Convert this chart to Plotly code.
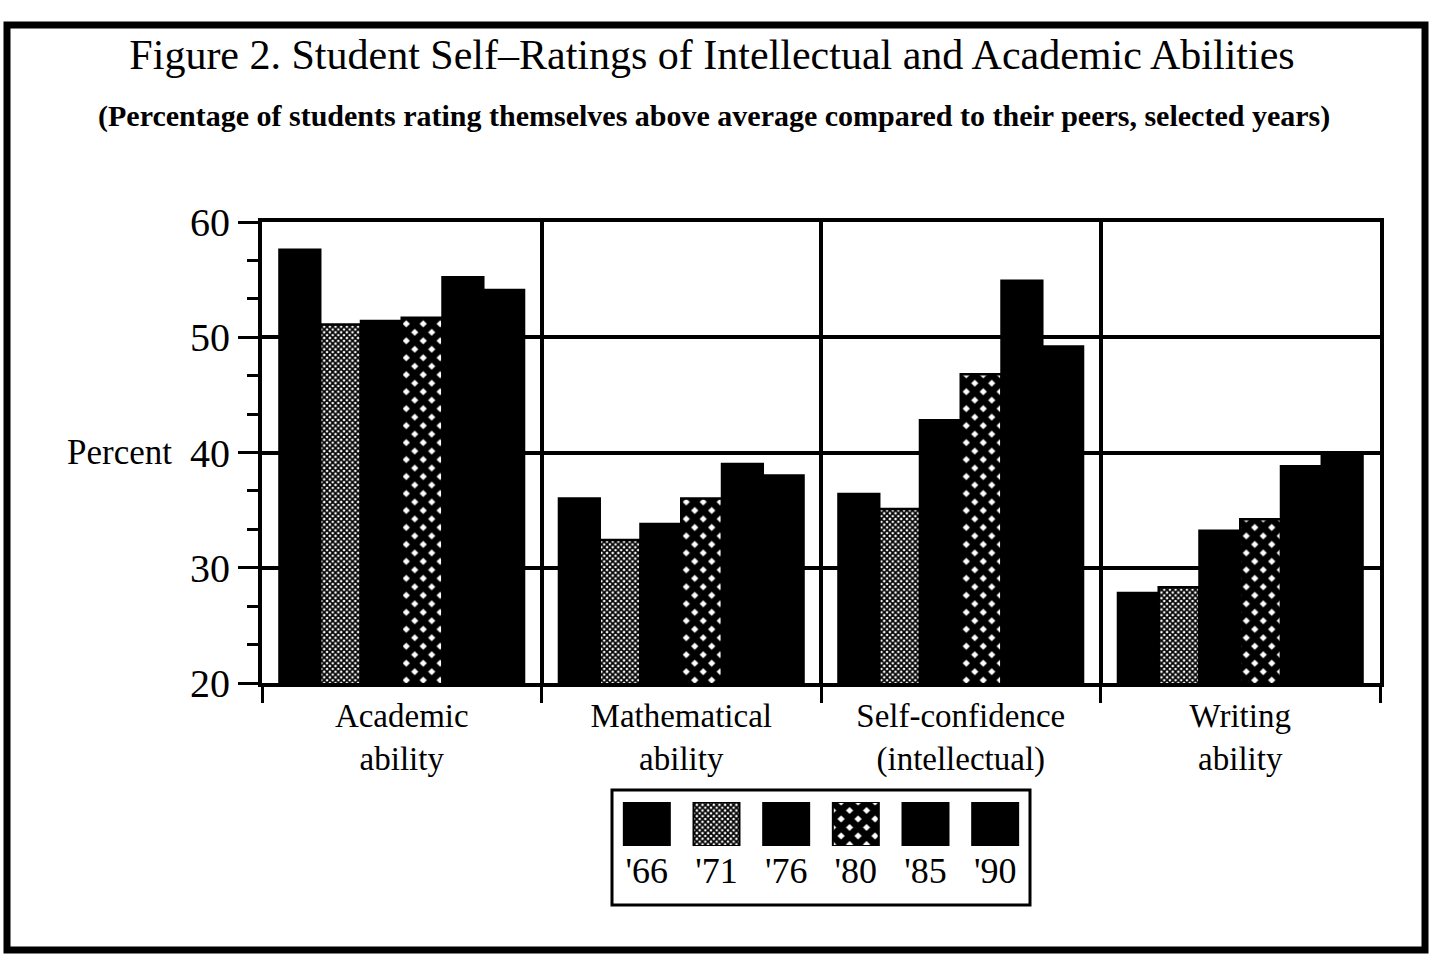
import plotly.graph_objects as go

W, H = 1430, 961

# ---- data ----
categories = ["Academic<br>ability", "Mathematical<br>ability",
              "Self-confidence<br>(intellectual)", "Writing<br>ability"]
years = ["'66", "'71", "'76", "'80", "'85", "'90"]

pct_66 = [57.6, 36.0, 36.4, 27.8]
pct_71 = [51.1, 32.4, 35.1, 28.3]
pct_76 = [51.4, 33.8, 42.8, 33.2]
pct_80 = [51.7, 36.0, 46.8, 34.2]
pct_85 = [55.2, 39.0, 54.9, 38.8]
pct_90 = [54.1, 38.0, 49.2, 39.9]

series = [pct_66, pct_71, pct_76, pct_80, pct_85, pct_90]

# fill styles: solid black except '71 (fine screen) and '80 (diamond dots)
patterns = {
    "'66": dict(shape=""),
    "'71": dict(shape="x", fgcolor="black", bgcolor="white", size=4, solidity=0.68, fillmode="replace"),
    "'76": dict(shape=""),
    "'80": dict(shape="x", fgcolor="black", bgcolor="white", size=12, solidity=0.82, fillmode="replace"),
    "'85": dict(shape=""),
    "'90": dict(shape=""),
}

FONT = "Liberation Serif"


def px(x):
    return x / W


def py(y):
    return 1 - y / H


fig = go.Figure()

for yr, vals in zip(years, series):
    fig.add_trace(go.Bar(
        x=categories, y=vals, name=yr,
        marker=dict(color="black", line=dict(color="black", width=2.5),
                    pattern=patterns[yr]),
        showlegend=False,
    ))

# legend drawn as a tiny bar chart: swatches above, year labels below
fig.add_trace(go.Bar(
    x=years, y=[1] * len(years), xaxis="x2", yaxis="y2", width=0.66,
    marker=dict(
        color="black", line=dict(color="black", width=2),
        pattern=dict(
            shape=[patterns[y]["shape"] for y in years],
            fgcolor="black", bgcolor="white",
            size=[patterns[y].get("size", 8) for y in years],
            solidity=[patterns[y].get("solidity", 0.5) for y in years],
            fillmode="replace",
        ),
    ),
    showlegend=False, hoverinfo="skip",
))

fig.update_layout(
    width=W, height=H,
    margin=dict(l=0, r=0, t=0, b=0, autoexpand=False),
    paper_bgcolor="white", plot_bgcolor="white",
    font=dict(family=FONT, color="black"),
    barmode="group", bargap=0.125, bargroupgap=0,
    title=dict(text="Figure 2. Student Self–Ratings of Intellectual and Academic Abilities",
               x=px(712), xanchor="center", y=py(54), yanchor="middle",
               font=dict(family=FONT, size=42, color="black")),
    xaxis=dict(domain=[px(262), px(1380)], tickson="boundaries", automargin=False,
               showline=True, linecolor="black", linewidth=4, mirror=True,
               showgrid=True, gridcolor="black", gridwidth=4,
               ticks="outside", ticklen=16, tickwidth=3, tickcolor="black",
               tickfont=dict(size=33, family=FONT), fixedrange=True),
    yaxis=dict(domain=[py(683), py(222)], range=[20, 60], dtick=10, automargin=False,
               showline=True, linecolor="black", linewidth=4, mirror=True,
               showgrid=True, gridcolor="black", gridwidth=4, zeroline=False,
               ticks="outside", ticklen=20, tickwidth=3, tickcolor="black",
               minor=dict(dtick=10 / 3, ticks="outside", ticklen=11, tickwidth=3,
                          tickcolor="black", showgrid=False),
               tickfont=dict(size=40, family=FONT), fixedrange=True),
    xaxis2=dict(domain=[px(612), px(1030)], anchor="y2", automargin=False,
                showline=False, showgrid=False, ticks="",
                tickfont=dict(size=36, family=FONT), fixedrange=True),
    yaxis2=dict(domain=[py(846), py(802)], anchor="x2", range=[0, 1], automargin=False,
                visible=False, fixedrange=True),
    showlegend=False,
)

# subtitle
fig.add_annotation(
    text="<b>(Percentage of students rating themselves above average compared to their peers, selected years)</b>",
    xref="paper", yref="paper", x=px(714), y=py(116), xanchor="center", yanchor="middle",
    showarrow=False, font=dict(family=FONT, size=30, color="black"))

# y label
fig.add_annotation(
    text="Percent", xref="paper", yref="y", x=px(174), y=40,
    xanchor="right", yanchor="middle", showarrow=False,
    font=dict(family=FONT, size=35, color="black"))

# outer frame and legend frame
fig.add_shape(type="rect", xref="paper", yref="paper",
              x0=px(7), x1=px(1425), y0=py(950), y1=py(25),
              line=dict(color="black", width=7))
fig.add_shape(type="rect", xref="paper", yref="paper",
              x0=px(612), x1=px(1030), y0=py(905), y1=py(790),
              line=dict(color="black", width=3))

fig.write_html("out.html", config={"displayModeBar": False},
               post_script="document.body.style.margin='0';")
